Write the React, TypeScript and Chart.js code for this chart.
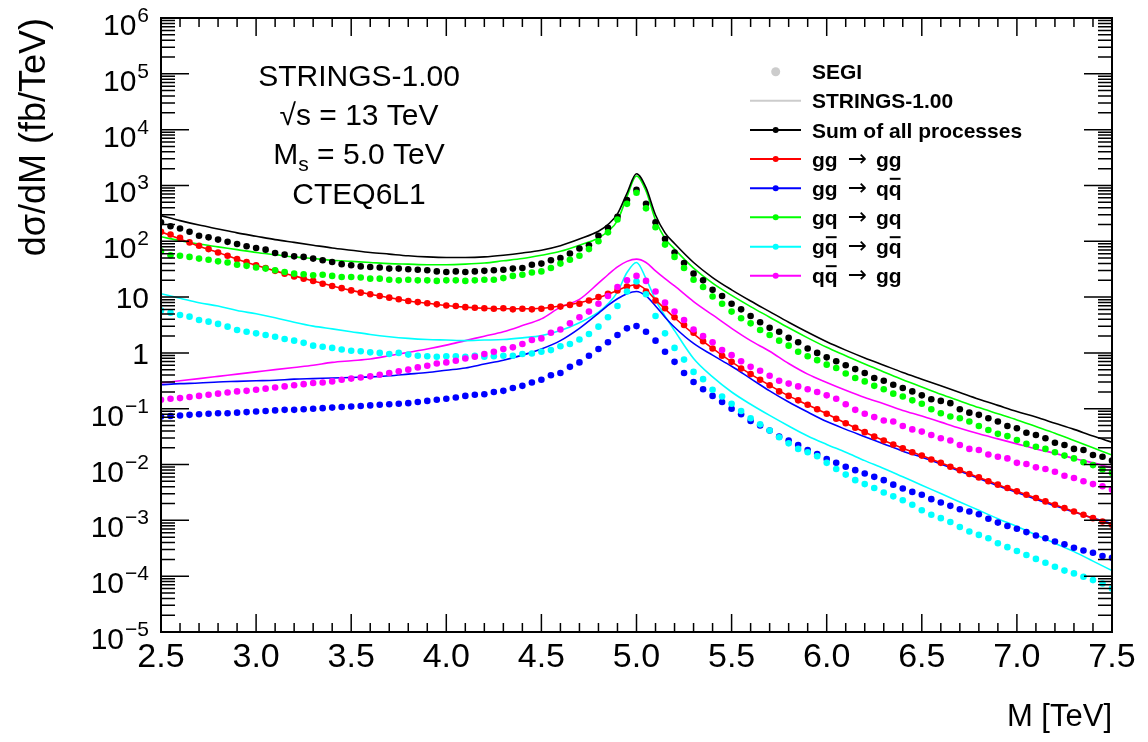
import React, { useEffect, useRef } from "react";
import { Chart, registerables } from "chart.js";

Chart.register(...registerables);

// Invariant-mass bins (TeV) of the SEGI samples
const DOT_M = [
  2.5, 2.55, 2.6, 2.65, 2.7, 2.75, 2.8, 2.85, 2.9, 2.95,
  3.0, 3.05, 3.1, 3.15, 3.2, 3.25, 3.3, 3.35, 3.4, 3.45,
  3.5, 3.55, 3.6, 3.65, 3.7, 3.75, 3.8, 3.85, 3.9, 3.95,
  4.0, 4.05, 4.1, 4.15, 4.2, 4.25, 4.3, 4.35, 4.4, 4.45,
  4.5, 4.55, 4.6, 4.65, 4.7, 4.75, 4.8, 4.85, 4.9, 4.95,
  5.0, 5.05, 5.1, 5.15, 5.2, 5.25, 5.3, 5.35, 5.4, 5.45,
  5.5, 5.55, 5.6, 5.65, 5.7, 5.75, 5.8, 5.85, 5.9, 5.95,
  6.0, 6.05, 6.1, 6.15, 6.2, 6.25, 6.3, 6.35, 6.4, 6.45,
  6.5, 6.55, 6.6, 6.65, 6.7, 6.75, 6.8, 6.85, 6.9, 6.95,
  7.0, 7.05, 7.1, 7.15, 7.2, 7.25, 7.3, 7.35, 7.4, 7.45,
  7.5,
];

// SEGI results, log10 of dσ/dM in fb/TeV
const SEGI_SUM = [
  2.34, 2.27, 2.23, 2.17, 2.1, 2.07, 2.03, 1.99, 1.95, 1.91,
  1.88, 1.85, 1.79, 1.76, 1.73, 1.72, 1.69, 1.66, 1.63, 1.59,
  1.57, 1.55, 1.54, 1.53, 1.51, 1.51, 1.5, 1.49, 1.48, 1.46,
  1.45, 1.46, 1.45, 1.46, 1.47, 1.48, 1.49, 1.51, 1.52, 1.58,
  1.6, 1.66, 1.7, 1.78, 1.87, 1.93, 2.1, 2.24, 2.44, 2.74,
  2.92, 2.67, 2.34, 2.04, 1.8, 1.61, 1.42, 1.3, 1.13, 1.02,
  0.88, 0.78, 0.66, 0.55, 0.45, 0.38, 0.27, 0.19, 0.08, 0.0,
  -0.08, -0.15, -0.22, -0.29, -0.36, -0.45, -0.5, -0.57, -0.63, -0.69,
  -0.76, -0.83, -0.86, -0.9, -1.01, -1.07, -1.11, -1.17, -1.23, -1.31,
  -1.35, -1.43, -1.47, -1.53, -1.61, -1.65, -1.72, -1.74, -1.83, -1.86,
  -1.93,
];
const SEGI_GG_GG = [
  2.17, 2.12, 2.06, 1.98, 1.92, 1.86, 1.8, 1.74, 1.68, 1.63,
  1.57, 1.52, 1.47, 1.42, 1.37, 1.33, 1.29, 1.24, 1.2, 1.16,
  1.12, 1.08, 1.05, 1.02, 0.99, 0.96, 0.93, 0.91, 0.89, 0.87,
  0.85, 0.84, 0.82, 0.81, 0.8, 0.79, 0.8, 0.78, 0.79, 0.78,
  0.79, 0.82, 0.83, 0.86, 0.88, 0.94, 1.0, 1.06, 1.12, 1.19,
  1.2, 1.1, 0.94, 0.8, 0.64, 0.5, 0.36, 0.21, 0.08, -0.05,
  -0.16, -0.28, -0.38, -0.48, -0.58, -0.69, -0.77, -0.85, -0.93, -1.01,
  -1.09, -1.18, -1.26, -1.34, -1.42, -1.5, -1.57, -1.64, -1.71, -1.78,
  -1.84, -1.91, -1.97, -2.04, -2.1, -2.17, -2.23, -2.3, -2.36, -2.42,
  -2.48, -2.54, -2.6, -2.66, -2.72, -2.78, -2.84, -2.9, -2.96, -3.02,
  -3.08,
];
const SEGI_GG_QQ = [
  -1.14, -1.13, -1.12, -1.11, -1.1, -1.09, -1.08, -1.08, -1.07, -1.06,
  -1.05, -1.04, -1.03, -1.02, -1.02, -1.01, -1.0, -0.99, -0.98, -0.97,
  -0.96, -0.95, -0.94, -0.93, -0.92, -0.91, -0.9, -0.88, -0.86, -0.84,
  -0.82, -0.8, -0.77, -0.75, -0.74, -0.7, -0.68, -0.63, -0.59, -0.53,
  -0.48, -0.4, -0.36, -0.25, -0.17, -0.05, 0.07, 0.19, 0.32, 0.44,
  0.48, 0.38, 0.22, 0.02, -0.16, -0.36, -0.52, -0.65, -0.77, -0.88,
  -1.0, -1.1, -1.22, -1.3, -1.39, -1.5, -1.57, -1.65, -1.74, -1.81,
  -1.9, -1.97, -2.04, -2.1, -2.16, -2.22, -2.28, -2.36, -2.43, -2.49,
  -2.54, -2.62, -2.68, -2.74, -2.8, -2.84, -2.89, -2.97, -3.04, -3.1,
  -3.15, -3.21, -3.27, -3.32, -3.38, -3.43, -3.49, -3.54, -3.58, -3.64,
  -3.67,
];
const SEGI_GQ_GQ = [
  1.82, 1.75, 1.74, 1.72, 1.69, 1.67, 1.64, 1.62, 1.58, 1.56,
  1.53, 1.51, 1.48, 1.45, 1.42, 1.41, 1.39, 1.4, 1.38, 1.36,
  1.36, 1.35, 1.33, 1.33, 1.31, 1.3, 1.31, 1.3, 1.3, 1.29,
  1.3, 1.3, 1.29, 1.3, 1.31, 1.31, 1.34, 1.38, 1.4, 1.44,
  1.46, 1.52, 1.6, 1.67, 1.74, 1.86, 2.0, 2.16, 2.39, 2.67,
  2.87, 2.59, 2.25, 1.94, 1.72, 1.52, 1.31, 1.18, 1.01, 0.88,
  0.74, 0.62, 0.53, 0.41, 0.32, 0.22, 0.13, 0.02, -0.06, -0.13,
  -0.21, -0.27, -0.37, -0.45, -0.51, -0.59, -0.65, -0.73, -0.78, -0.85,
  -0.91, -1.01, -1.08, -1.14, -1.17, -1.23, -1.31, -1.38, -1.45, -1.49,
  -1.56, -1.63, -1.68, -1.72, -1.78, -1.84, -1.89, -1.96, -2.01, -2.09,
  -2.15,
];
const SEGI_GQB_GQB = [
  0.76, 0.72, 0.68, 0.65, 0.59, 0.56, 0.52, 0.47, 0.41, 0.38,
  0.35, 0.32, 0.29, 0.25, 0.22, 0.18, 0.13, 0.11, 0.09, 0.06,
  0.04, 0.03, 0.01, 0.0, -0.02, 0.0, -0.03, -0.05, -0.06, -0.07,
  -0.06, -0.06, -0.07, -0.05, -0.07, -0.06, -0.05, -0.05, -0.02, -0.01,
  0.02, 0.05, 0.12, 0.16, 0.24, 0.34, 0.47, 0.64, 0.84, 1.1,
  1.28, 1.05, 0.66, 0.35, 0.09, -0.12, -0.34, -0.47, -0.66, -0.78,
  -0.91, -1.04, -1.17, -1.28, -1.39, -1.51, -1.62, -1.72, -1.78, -1.85,
  -1.97, -2.08, -2.18, -2.28, -2.35, -2.42, -2.5, -2.57, -2.64, -2.72,
  -2.82, -2.9, -2.96, -3.03, -3.12, -3.2, -3.26, -3.32, -3.41, -3.48,
  -3.55, -3.62, -3.69, -3.76, -3.83, -3.9, -3.95, -4.01, -4.07, -4.13,
  -4.22,
];
const SEGI_QQB_GG = [
  -0.84, -0.82, -0.81, -0.79, -0.77, -0.75, -0.73, -0.71, -0.69, -0.68,
  -0.66, -0.64, -0.62, -0.6, -0.58, -0.56, -0.54, -0.53, -0.51, -0.48,
  -0.46, -0.44, -0.42, -0.39, -0.36, -0.33, -0.3, -0.26, -0.23, -0.19,
  -0.17, -0.14, -0.1, -0.07, -0.02, 0.02, 0.07, 0.1, 0.16, 0.23,
  0.26, 0.36, 0.42, 0.53, 0.64, 0.74, 0.88, 1.02, 1.18, 1.3,
  1.38, 1.29, 1.1, 0.9, 0.74, 0.59, 0.42, 0.3, 0.19, 0.05,
  -0.04, -0.15, -0.25, -0.32, -0.41, -0.5, -0.55, -0.6, -0.65, -0.7,
  -0.76, -0.82, -0.92, -1.02, -1.09, -1.15, -1.21, -1.23, -1.31, -1.37,
  -1.41, -1.47, -1.53, -1.57, -1.65, -1.72, -1.74, -1.82, -1.86, -1.89,
  -1.97, -1.99, -2.05, -2.08, -2.13, -2.2, -2.24, -2.3, -2.35, -2.39,
  -2.45,
];

// Mass points (TeV) of the STRINGS-1.00 curves, denser around the resonance
const LINE_M = [
  2.5, 2.6, 2.7, 2.8, 2.9, 3.0, 3.1, 3.2, 3.3, 3.4, 3.5, 3.6,
  3.7, 3.8, 3.9, 4.0, 4.1, 4.2, 4.3, 4.4, 4.5, 4.6, 4.7, 4.8,
  4.85, 4.9, 4.95, 5.0, 5.05, 5.1, 5.15, 5.2,
  5.3, 5.4, 5.5, 5.6, 5.7, 5.8, 5.9, 6.0, 6.1, 6.2, 6.3, 6.4,
  6.5, 6.6, 6.7, 6.8, 6.9, 7.0, 7.1, 7.2, 7.3, 7.4, 7.5,
];

// STRINGS-1.00 results, log10 of dσ/dM in fb/TeV
const STR_SUM = [
  2.46, 2.37, 2.29, 2.22, 2.15, 2.09, 2.03, 1.98, 1.93, 1.88, 1.84, 1.8,
  1.77, 1.74, 1.72, 1.71, 1.71, 1.72, 1.75, 1.79, 1.84, 1.92, 2.04, 2.18,
  2.3, 2.49, 2.86, 3.21, 2.96, 2.47, 2.15, 1.96,
  1.62, 1.35, 1.13, 0.93, 0.74, 0.55, 0.37, 0.2, 0.05, -0.09, -0.22, -0.35,
  -0.47, -0.59, -0.71, -0.83, -0.94, -1.05, -1.15, -1.26, -1.37, -1.49, -1.6,
];
const STR_GG_GG = [
  2.17, 2.04, 1.91, 1.8, 1.68, 1.57, 1.47, 1.38, 1.29, 1.2, 1.12, 1.05,
  0.99, 0.93, 0.89, 0.85, 0.82, 0.8, 0.79, 0.79, 0.8, 0.84, 0.9, 0.99,
  1.05, 1.12, 1.19, 1.22, 1.13, 0.95, 0.79, 0.63,
  0.34, 0.08, -0.16, -0.38, -0.58, -0.77, -0.93, -1.09, -1.26, -1.42, -1.57, -1.71,
  -1.84, -1.97, -2.1, -2.23, -2.36, -2.48, -2.6, -2.72, -2.84, -2.96, -3.08,
];
const STR_GG_QQ = [
  -0.57, -0.55, -0.54, -0.52, -0.51, -0.5, -0.49, -0.47, -0.46, -0.45, -0.44, -0.43,
  -0.41, -0.38, -0.35, -0.31, -0.27, -0.2, -0.13, -0.04, 0.07, 0.22, 0.44, 0.71,
  0.85, 0.97, 1.06, 1.1, 1.02, 0.84, 0.64, 0.46,
  0.17, -0.04, -0.24, -0.46, -0.68, -0.88, -1.06, -1.23, -1.37, -1.5, -1.63, -1.76,
  -1.87, -1.99, -2.12, -2.25, -2.38, -2.5, -2.62, -2.74, -2.85, -2.96, -3.06,
];
const STR_GQ_GQ = [
  2.08, 2.01, 1.95, 1.9, 1.85, 1.8, 1.76, 1.72, 1.69, 1.66, 1.64, 1.62,
  1.6, 1.59, 1.58, 1.58, 1.59, 1.61, 1.65, 1.69, 1.75, 1.82, 1.93, 2.06,
  2.18, 2.37, 2.8, 3.17, 2.9, 2.38, 2.05, 1.86,
  1.52, 1.25, 1.03, 0.83, 0.64, 0.45, 0.27, 0.1, -0.05, -0.2, -0.34, -0.48,
  -0.61, -0.74, -0.86, -0.98, -1.09, -1.2, -1.32, -1.44, -1.57, -1.7, -1.83,
];
const STR_GQB_GQB = [
  1.06, 0.98, 0.9, 0.84, 0.76, 0.7, 0.63, 0.55, 0.48, 0.43, 0.38, 0.33,
  0.29, 0.26, 0.24, 0.23, 0.22, 0.23, 0.24, 0.27, 0.31, 0.4, 0.54, 0.73,
  0.88, 1.09, 1.44, 1.62, 1.33, 0.95, 0.66, 0.4,
  -0.1, -0.43, -0.7, -0.92, -1.12, -1.31, -1.49, -1.64, -1.78, -1.93, -2.07, -2.22,
  -2.37, -2.52, -2.67, -2.82, -2.97, -3.11, -3.26, -3.41, -3.56, -3.73, -3.9,
];
const STR_QQB_GG = [
  -0.54, -0.5, -0.46, -0.42, -0.38, -0.34, -0.3, -0.26, -0.22, -0.17, -0.14, -0.11,
  -0.05, 0.01, 0.07, 0.14, 0.22, 0.3, 0.38, 0.49, 0.61, 0.82, 0.96, 1.25,
  1.4, 1.54, 1.64, 1.68, 1.62, 1.47, 1.33, 1.2,
  0.92, 0.68, 0.44, 0.22, 0.03, -0.19, -0.38, -0.53, -0.67, -0.8, -0.91, -1.03,
  -1.13, -1.24, -1.35, -1.45, -1.54, -1.63, -1.72, -1.8, -1.89, -1.97, -2.06,
];

// Axis ticks
const X_TICK_VALUES = [2.5, 3.0, 3.5, 4.0, 4.5, 5.0, 5.5, 6.0, 6.5, 7.0, 7.5];
const X_TICK_LABELS = ["2.5", "3.0", "3.5", "4.0", "4.5", "5.0", "5.5", "6.0", "6.5", "7.0", "7.5"];
const Y_DECADES = [-5, -4, -3, -2, -1, 0, 1, 2, 3, 4, 5, 6];

const C_BLACK = "#000000";
const C_RED = "#ff0000";
const C_BLUE = "#0000ff";
const C_GREEN = "#00ff00";
const C_CYAN = "#00ffff";
const C_MAGENTA = "#ff00ff";
const C_GREY = "#cccccc";

const FONT = "'Liberation Sans', Arial, Helvetica, sans-serif";

type Seg = { t: string; bar?: boolean; arrow?: boolean };
type LegendEntry = { kind: "dot" | "line" | "both"; color: string; segs: Seg[] };

const LEGEND: LegendEntry[] = [
  { kind: "dot", color: C_GREY, segs: [{ t: "SEGI" }] },
  { kind: "line", color: C_GREY, segs: [{ t: "STRINGS-1.00" }] },
  { kind: "both", color: C_BLACK, segs: [{ t: "Sum of all processes" }] },
  { kind: "both", color: C_RED, segs: [{ t: "gg" }, { t: "\u2192", arrow: true }, { t: "gg" }] },
  { kind: "both", color: C_BLUE, segs: [{ t: "gg" }, { t: "\u2192", arrow: true }, { t: "q" }, { t: "q", bar: true }] },
  { kind: "both", color: C_GREEN, segs: [{ t: "gq" }, { t: "\u2192", arrow: true }, { t: "gq" }] },
  { kind: "both", color: C_CYAN, segs: [{ t: "g" }, { t: "q", bar: true }, { t: "\u2192", arrow: true }, { t: "g" }, { t: "q", bar: true }] },
  { kind: "both", color: C_MAGENTA, segs: [{ t: "q" }, { t: "q", bar: true }, { t: "\u2192", arrow: true }, { t: "gg" }] },
];

const toPoints = (xs: number[], logs: number[]) =>
  xs.map((m, i) => ({ x: m, y: Math.pow(10, logs[i]) }));

function lineSet(label: string, logs: number[], color: string, order: number) {
  return {
    label,
    data: toPoints(LINE_M, logs),
    borderColor: color,
    backgroundColor: color,
    borderWidth: 1.6,
    pointRadius: 0,
    showLine: true,
    fill: false,
    cubicInterpolationMode: "monotone" as const,
    order,
  };
}

function dotSet(label: string, logs: number[], color: string, order: number) {
  return {
    label,
    data: toPoints(DOT_M, logs),
    borderColor: color,
    backgroundColor: color,
    pointBackgroundColor: color,
    pointBorderWidth: 0,
    pointRadius: 3.3,
    showLine: false,
    fill: false,
    order,
  };
}

function drawSegs(ctx: CanvasRenderingContext2D, x: number, y: number, segs: Seg[]) {
  const boldFont = `bold 21px ${FONT}`;
  const arrowFont = `23px 'DejaVu Sans', ${FONT}`;
  ctx.textAlign = "left";
  ctx.textBaseline = "alphabetic";
  for (const s of segs) {
    if (s.arrow) {
      x += 10;
      ctx.font = arrowFont;
      ctx.fillText(s.t, x, y - 1);
      x += ctx.measureText(s.t).width + 9;
      continue;
    }
    ctx.font = boldFont;
    const w = ctx.measureText(s.t).width;
    ctx.fillText(s.t, x, y);
    if (s.bar) ctx.fillRect(x + 1, y - 18, w - 2, 2);
    x += w;
  }
}

const rootFrame = {
  id: "rootFrame",
  afterDraw(chart: any) {
    const ctx: CanvasRenderingContext2D = chart.ctx;
    const { left, right, top, bottom } = chart.chartArea;
    const xs = chart.scales.x;
    const ys = chart.scales.y;
    ctx.save();

    // frame
    ctx.strokeStyle = "#000";
    ctx.lineWidth = 2;
    ctx.strokeRect(left, top, right - left, bottom - top);

    // x ticks, mirrored on the top edge
    ctx.lineWidth = 1.5;
    ctx.beginPath();
    for (let k = 25; k <= 75; k++) {
      const px = xs.getPixelForValue(k / 10);
      const len = k % 5 === 0 ? 18 : 9;
      ctx.moveTo(px, bottom);
      ctx.lineTo(px, bottom - len);
      ctx.moveTo(px, top);
      ctx.lineTo(px, top + len);
    }
    // y ticks, mirrored on the right edge
    for (let e = -5; e <= 6; e++) {
      for (let m = 1; m <= 9; m++) {
        if (e === 6 && m > 1) break;
        const py = ys.getPixelForValue(m * Math.pow(10, e));
        const len = m === 1 ? 28 : 14;
        ctx.moveTo(left, py);
        ctx.lineTo(left + len, py);
        ctx.moveTo(right, py);
        ctx.lineTo(right - len, py);
      }
    }
    ctx.stroke();

    // x tick labels
    ctx.fillStyle = "#000";
    ctx.font = `34px ${FONT}`;
    ctx.textAlign = "center";
    ctx.textBaseline = "alphabetic";
    X_TICK_VALUES.forEach((v, i) => {
      ctx.fillText(X_TICK_LABELS[i], xs.getPixelForValue(v), 667);
    });

    // y tick labels (powers of ten)
    const yRight = 149;
    ctx.textAlign = "right";
    Y_DECADES.forEach((e) => {
      const py = ys.getPixelForValue(Math.pow(10, e));
      if (e === 0 || e === 1) {
        ctx.font = `30px ${FONT}`;
        ctx.fillText(e === 0 ? "1" : "10", yRight, py + 11);
        return;
      }
      const sup = e < 0 ? "\u2212" + String(-e) : String(e);
      ctx.font = `21px ${FONT}`;
      const sw = ctx.measureText(sup).width;
      ctx.fillText(sup, yRight, py + 4);
      ctx.font = `30px ${FONT}`;
      ctx.fillText("10", yRight - sw - 1, py + 17);
    });

    // axis titles
    ctx.font = `31px ${FONT}`;
    ctx.textAlign = "right";
    ctx.fillText("M [TeV]", right, 726);

    ctx.save();
    ctx.translate(45, top);
    ctx.rotate(-Math.PI / 2);
    ctx.font = `36px ${FONT}`;
    ctx.textAlign = "right";
    ctx.fillText("d\u03c3/dM (fb/TeV)", 0, 0);
    ctx.restore();

    // run information
    const cx = 359;
    ctx.textAlign = "center";
    ctx.font = `30px ${FONT}`;
    ctx.fillText("STRINGS-1.00", cx, 86);
    ctx.fillText("\u221as = 13 TeV", cx, 125);
    ctx.fillText("CTEQ6L1", cx, 204);
    {
      ctx.textAlign = "left";
      ctx.font = `30px ${FONT}`;
      const wM = ctx.measureText("M").width;
      const rest = " = 5.0 TeV";
      const wR = ctx.measureText(rest).width;
      ctx.font = `21px ${FONT}`;
      const wS = ctx.measureText("s").width;
      let x = cx - (wM + wS + wR) / 2;
      ctx.font = `30px ${FONT}`;
      ctx.fillText("M", x, 164);
      x += wM;
      ctx.font = `21px ${FONT}`;
      ctx.fillText("s", x, 171);
      x += wS;
      ctx.font = `30px ${FONT}`;
      ctx.fillText(rest, x, 164);
    }

    // legend
    const rowY = [71.7, 100.7, 130, 159, 188.3, 217.3, 246.7, 275.7];
    LEGEND.forEach((entry, i) => {
      const y = rowY[i];
      ctx.fillStyle = entry.color;
      ctx.strokeStyle = entry.color;
      if (entry.kind !== "dot") {
        ctx.lineWidth = 2;
        ctx.beginPath();
        ctx.moveTo(750, y);
        ctx.lineTo(801, y);
        ctx.stroke();
      }
      if (entry.kind !== "line") {
        ctx.beginPath();
        ctx.arc(775.7, y, entry.kind === "dot" ? 4.5 : 3, 0, Math.PI * 2);
        ctx.fill();
      }
      ctx.fillStyle = "#000";
      drawSegs(ctx, 812, y + 7.5, entry.segs);
    });

    ctx.restore();
  },
};

export default function App() {
  const canvasRef = useRef<HTMLCanvasElement | null>(null);

  useEffect(() => {
    const canvas = canvasRef.current;
    if (!canvas) return;
    const chart = new Chart(canvas, {
      type: "line",
      data: {
        datasets: [
          lineSet("STRINGS sum", STR_SUM, C_BLACK, 20),
          lineSet("STRINGS gg->gg", STR_GG_GG, C_RED, 21),
          lineSet("STRINGS gg->qqbar", STR_GG_QQ, C_BLUE, 22),
          lineSet("STRINGS gq->gq", STR_GQ_GQ, C_GREEN, 23),
          lineSet("STRINGS gqbar->gqbar", STR_GQB_GQB, C_CYAN, 24),
          lineSet("STRINGS qqbar->gg", STR_QQB_GG, C_MAGENTA, 25),
          dotSet("SEGI sum", SEGI_SUM, C_BLACK, 6),
          dotSet("SEGI gg->gg", SEGI_GG_GG, C_RED, 5),
          dotSet("SEGI gg->qqbar", SEGI_GG_QQ, C_BLUE, 4),
          dotSet("SEGI gq->gq", SEGI_GQ_GQ, C_GREEN, 3),
          dotSet("SEGI gqbar->gqbar", SEGI_GQB_GQB, C_CYAN, 2),
          dotSet("SEGI qqbar->gg", SEGI_QQB_GG, C_MAGENTA, 1),
        ] as any,
      },
      options: {
        animation: false,
        responsive: false,
        devicePixelRatio: 1,
        layout: { padding: { left: 161, right: 36, top: 18, bottom: 110 } },
        scales: {
          x: { type: "linear", min: 2.5, max: 7.5, display: false },
          y: { type: "logarithmic", min: 1e-5, max: 1e6, display: false },
        },
        plugins: {
          legend: { display: false },
          tooltip: { enabled: false },
        },
        events: [],
      },
      plugins: [rootFrame],
    });
    return () => chart.destroy();
  }, []);

  return (
    <div style={{ position: "fixed", left: 0, top: 0, width: 1148, height: 742, background: "#fff" }}>
      <canvas ref={canvasRef} width={1148} height={742} style={{ display: "block", width: 1148, height: 742 }} />
    </div>
  );
}
